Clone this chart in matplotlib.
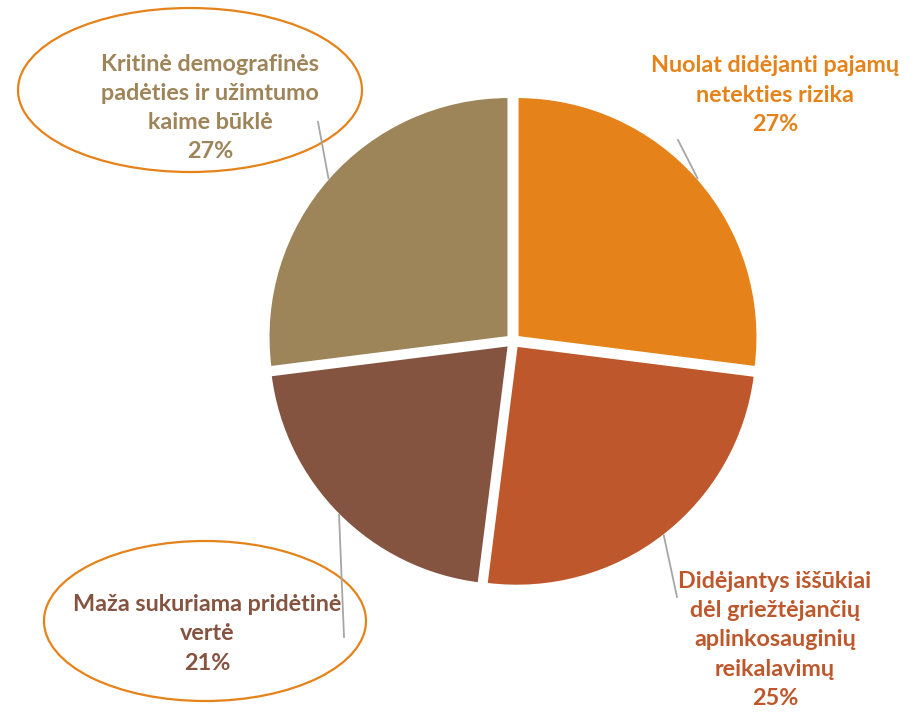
import matplotlib
matplotlib.use("Agg")
import matplotlib.pyplot as plt
from matplotlib.patches import Ellipse
import numpy as np

categories = [
    "Nuolat didėjanti pajamų\nnetekties rizika",
    "Didėjantys iššūkiai\ndėl griežtėjančių\naplinkosauginių\nreikalavimų",
    "Maža sukuriama pridėtinė\nvertė",
    "Kritinė demografinės\npadėties ir užimtumo\nkaime būklė",
]
values = [27, 25, 21, 27]
colors = ["#E5831A", "#BE582C", "#845440", "#9E8459"]

W, H = 922, 714
fig = plt.figure(figsize=(W / 100, H / 100), dpi=100)
ax = fig.add_axes([0, 0, 1, 1])

cx, cy, R = 513, H - 341, 240
wedges, _ = ax.pie(values, colors=colors, startangle=90, counterclock=False,
                   center=(cx, cy), radius=R, explode=[6] * 4,
                   wedgeprops=dict(linewidth=1.5, edgecolor="white"), frame=True)
ax.set_xlim(0, W)
ax.set_ylim(0, H)
ax.set_aspect("equal")
ax.axis("off")

# label layout (image coords: centre x, centre y) and leader-line end points
label_pos = [(775, 95), (775, 640), (207, 634), (210, 108)]
line_end = [(678, 140), (677, 597), (344, 637), (318, 122)]
ellipse = [None, None, (205, 621, 322, 160), (190, 90, 344, 164)]

for i, w in enumerate(wedges):
    ang = np.deg2rad((w.theta1 + w.theta2) / 2)
    wx, wy = w.center
    sx, sy = wx + R * np.cos(ang), wy + R * np.sin(ang)
    ex, ey = line_end[i]
    ax.plot([sx, ex], [sy, H - ey], color="#A6A6A6", lw=1.3, zorder=3)
    if ellipse[i] is not None:
        ecx, ecy, ew, eh = ellipse[i]
        ax.add_patch(Ellipse((ecx, H - ecy), ew, eh, facecolor="white",
                             edgecolor="#E5831A", lw=1.6, zorder=2))
    lx, ly = label_pos[i]
    ax.text(lx, H - ly, f"{categories[i]}\n{values[i]}%", ha="center", va="center",
            color=colors[i], fontsize=16.8, fontweight="bold", fontstyle="normal",
            family="Lato", linespacing=1.48, zorder=4)

fig.savefig("out.png", dpi=100)
